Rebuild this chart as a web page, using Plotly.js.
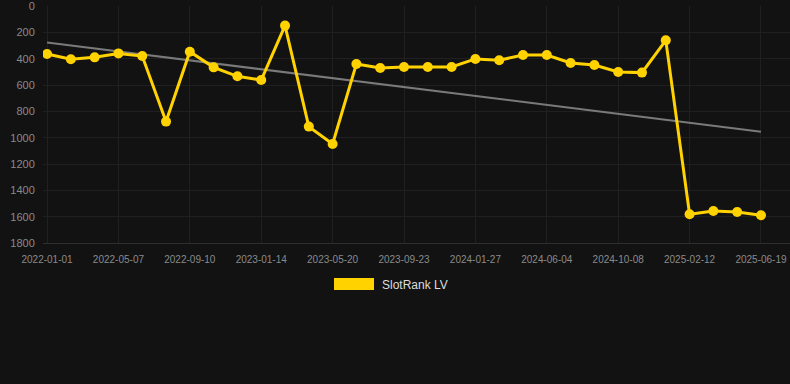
<!DOCTYPE html>
<html>
<head>
<meta charset="utf-8">
<script src="https://cdn.plot.ly/plotly-3.0.1.min.js"></script>
<style>
html,body{margin:0;padding:0;background:#121212;}
#chart{width:790px;height:384px;}
</style>
</head>
<body>
<div id="chart"></div>
<script>
// Data
var dates = [
  "2022-01-01","2022-02-12","2022-03-26","2022-05-07","2022-06-18","2022-07-30",
  "2022-09-10","2022-10-22","2022-12-03","2023-01-14","2023-02-25","2023-04-08",
  "2023-05-20","2023-07-01","2023-08-12","2023-09-23","2023-11-04","2023-12-16",
  "2024-01-27","2024-03-09","2024-04-20","2024-06-04","2024-07-16","2024-08-27",
  "2024-10-08","2024-11-19","2024-12-31","2025-02-12","2025-03-26","2025-05-07",
  "2025-06-19"
];
var rankLV = [
  364, 405, 390, 360, 380, 878,
  347, 466, 534, 562, 149, 916,
  1048, 440, 471, 463, 463, 463,
  402, 412, 372, 372, 433, 448,
  501, 506, 261, 1582, 1557, 1564,
  1589
];
var tickLabels = ["2022-01-01","2022-05-07","2022-09-10","2023-01-14","2023-05-20",
  "2023-09-23","2024-01-27","2024-06-04","2024-10-08","2025-02-12","2025-06-19"];
var yTicks = [0, 200, 400, 600, 800, 1000, 1200, 1400, 1600, 1800];
var seriesName = "SlotRank LV";

// Linear regression trend
var n = rankLV.length, sx = 0, sy = 0, sxx = 0, sxy = 0;
for (var i = 0; i < n; i++) { sx += i; sy += rankLV[i]; sxx += i*i; sxy += i*rankLV[i]; }
var slope = (n*sxy - sx*sy) / (n*sxx - sx*sx);
var intercept = (sy - slope*sx) / n;
var trendX = [dates[0], dates[n-1]];
var trendY = [intercept, intercept + slope*(n-1)];

var gold = "#FFD200";
var W = 790, H = 384, mL = 43, mR = 0, mT = 6, mB = 141;
var pw = W - mL - mR, ph = H - mT - mB;
function px(x){ return (x - mL)/pw; }
function py(y){ return (H - mB - y)/ph; }

var traces = [
  {
    x: trendX, y: trendY, type: "scatter", mode: "lines",
    line: {color: "#7a7a7a", width: 2}, showlegend: false, hoverinfo: "skip"
  },
  {
    x: dates, y: rankLV, type: "scatter", mode: "lines+markers", name: seriesName,
    line: {color: gold, width: 3},
    marker: {color: gold, size: 10},
    showlegend: false
  }
];

var layout = {
  width: W, height: H,
  paper_bgcolor: "#121212", plot_bgcolor: "#121212",
  margin: {l: mL, r: mR, t: mT, b: mB, pad: 0},
  font: {family: "Liberation Sans, Arial, sans-serif", color: "#8a8a8a"},
  showlegend: false,
  xaxis: {
    type: "category",
    categoryorder: "array", categoryarray: dates,
    range: [-0.17, 31.22],
    tickmode: "array", tickvals: tickLabels, ticktext: tickLabels,
    tickfont: {size: 10, color: "#8a8a8a"},
    showgrid: true, gridcolor: "#202020", gridwidth: 1,
    zeroline: false, showline: true, linecolor: "#2e2e2e", linewidth: 1,
    ticks: "outside", ticklen: 7, tickcolor: "rgba(0,0,0,0)",
    ticklabeloverflow: "allow"
  },
  yaxis: {
    range: [1800, 0], autorange: false,
    tickmode: "array", tickvals: yTicks,
    tickfont: {size: 11, color: "#8a8a8a"},
    showgrid: true, gridcolor: "#202020", gridwidth: 1,
    zeroline: false, showline: false,
    ticks: "outside", ticklen: 5, tickcolor: "rgba(0,0,0,0)",
    ticklabeloverflow: "allow"
  },
  shapes: [
    {type: "rect", xref: "paper", yref: "paper",
     x0: px(334), x1: px(374), y0: py(290), y1: py(278),
     fillcolor: gold, line: {width: 0}}
  ],
  annotations: [
    {xref: "paper", yref: "paper", x: px(380), y: py(284.5),
     xanchor: "left", yanchor: "middle", showarrow: false,
     text: seriesName, font: {size: 12, color: "#dddddd"}}
  ]
};

Plotly.newPlot("chart", traces, layout, {displayModeBar: false, staticPlot: true});
</script>
</body>
</html>
